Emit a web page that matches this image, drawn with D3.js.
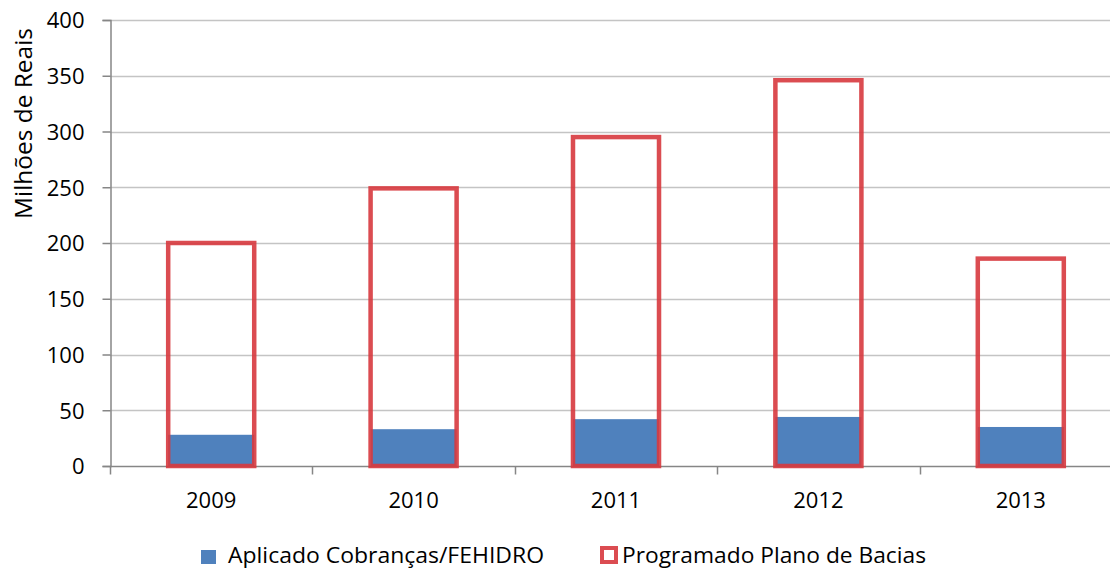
<!DOCTYPE html>
<html>
<head>
<meta charset="utf-8">
<script src="https://cdn.jsdelivr.net/npm/d3@7"></script>
<style>
  body { margin: 0; background: #fff; }
  text { font-family: "Open Sans", sans-serif; fill: #000; }
</style>
</head>
<body>
<div id="chart"></div>
<script>
const YEARS = ['2009', '2010', '2011', '2012', '2013'];
const APLICADO = [28, 33, 42, 44, 35];
const PROGRAMADO = [200, 249, 295, 346, 186];
const Y_TICKS = [0, 50, 100, 150, 200, 250, 300, 350, 400];
const SERIES_NAMES = ['Aplicado Cobranças/FEHIDRO', 'Programado Plano de Bacias'];
const Y_TITLE = 'Milhões de Reais';

const WIDTH = 1110;
const HEIGHT = 569;
const BLUE = '#4f81bd';
const RED = '#d7393e';
const AXIS_GRAY = '#868686';
const TICK_FONT = 22;

var svg = d3.select('#chart').append('svg')
  .attr('width', WIDTH)
  .attr('height', HEIGHT);

var x = d3.scaleBand()
  .domain(YEARS)
  .range([110, 1122])
  .paddingInner(0.575)
  .paddingOuter(0.2875);

var y = d3.scaleLinear()
  .domain([0, 400])
  .range([466, 20]);

// grid lines
svg.append('g')
  .selectAll('line')
  .data(Y_TICKS.slice(1))
  .enter()
  .append('line')
  .attr('x1', 110)
  .attr('x2', 1122)
  .attr('y1', function(d) { return Math.round(y(d)) + 0.5; })
  .attr('y2', function(d) { return Math.round(y(d)) + 0.5; })
  .style('stroke', '#c4c4c4')
  .style('stroke-width', 1.5);

// blue bars
svg.append('g')
  .selectAll('rect')
  .data(APLICADO)
  .enter()
  .append('rect')
  .attr('x', function(d, i) { return x(YEARS[i]); })
  .attr('y', function(d) { return y(d); })
  .attr('width', x.bandwidth())
  .attr('height', function(d) { return y(0) - y(d); })
  .style('fill', BLUE);

// y axis
var yAxis = svg.append('g')
  .attr('transform', 'translate(110.5,0)')
  .call(d3.axisLeft(y).tickValues(Y_TICKS).tickSize(8).tickPadding(18));
yAxis.select('.domain').style('stroke', AXIS_GRAY).style('stroke-width', 1.5);
yAxis.selectAll('.tick line').style('stroke', AXIS_GRAY).style('stroke-width', 1.5);
yAxis.selectAll('text')
  .style('font-size', TICK_FONT + 'px')
  .style('font-family', '"Open Sans", sans-serif')
  .attr('dy', '0.36em');

// x axis
var xEdge = d3.scaleLinear().domain([0, YEARS.length]).range([110, 1122]);
var xAxisG = svg.append('g').attr('transform', 'translate(0,466.5)');
xAxisG.append('line')
  .attr('x1', 110).attr('x2', 1122)
  .style('stroke', AXIS_GRAY).style('stroke-width', 1.5);
xAxisG.selectAll('line.tk')
  .data(d3.range(YEARS.length + 1))
  .enter()
  .append('line')
  .attr('class', 'tk')
  .attr('x1', function(d) { return Math.round(xEdge(d)) + 0.5; })
  .attr('x2', function(d) { return Math.round(xEdge(d)) + 0.5; })
  .attr('y1', 0).attr('y2', 8)
  .style('stroke', AXIS_GRAY).style('stroke-width', 1.5);
xAxisG.selectAll('text')
  .data(YEARS)
  .enter()
  .append('text')
  .attr('x', function(d) { return x(d) + x.bandwidth() / 2; })
  .attr('y', 41.5)
  .attr('text-anchor', 'middle')
  .style('font-size', TICK_FONT + 'px')
  .text(function(d) { return d; });

// red outline bars
svg.append('g')
  .selectAll('rect')
  .data(PROGRAMADO)
  .enter()
  .append('rect')
  .attr('x', function(d, i) { return x(YEARS[i]); })
  .attr('y', function(d) { return y(d); })
  .attr('width', x.bandwidth())
  .attr('height', function(d) { return y(0) - y(d); })
  .style('fill', 'none')
  .style('stroke', RED)
  .style('stroke-opacity', 0.9)
  .style('stroke-width', 4.5);

// y title
svg.append('text')
  .attr('transform', 'translate(32,123.5) rotate(-90)')
  .attr('text-anchor', 'middle')
  .attr('textLength', 191)
  .attr('lengthAdjust', 'spacingAndGlyphs')
  .style('font-size', '23px')
  .text(Y_TITLE);

// legend
var legend = svg.append('g');
legend.append('rect')
  .attr('x', 201).attr('y', 550).attr('width', 15).attr('height', 14)
  .style('fill', BLUE);
legend.append('text')
  .attr('x', 228).attr('y', 563)
  .attr('textLength', 316)
  .attr('lengthAdjust', 'spacingAndGlyphs')
  .style('font-size', '22px')
  .text(SERIES_NAMES[0]);
legend.append('rect')
  .attr('x', 602).attr('y', 548).attr('width', 14).attr('height', 14)
  .style('fill', 'none')
  .style('stroke', RED)
  .style('stroke-opacity', 0.9)
  .style('stroke-width', 4);
legend.append('text')
  .attr('x', 622).attr('y', 563)
  .attr('textLength', 304)
  .attr('lengthAdjust', 'spacingAndGlyphs')
  .style('font-size', '22px')
  .text(SERIES_NAMES[1]);
</script>
</body>
</html>
